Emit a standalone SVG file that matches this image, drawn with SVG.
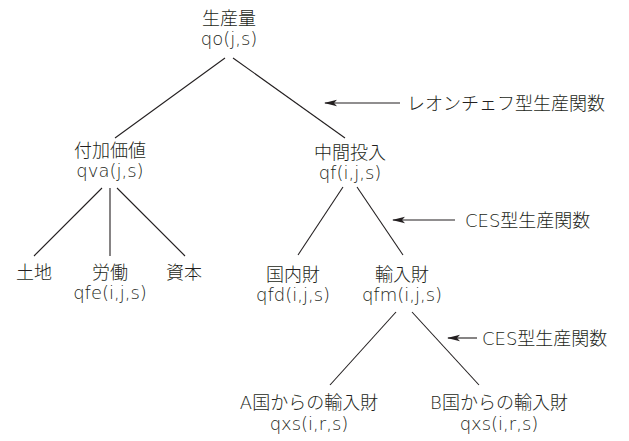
<svg xmlns="http://www.w3.org/2000/svg" width="629" height="441" viewBox="0 0 629 441">
<style>
text{font-family:"DejaVu Sans","Noto Sans CJK JP",sans-serif;font-size:18px;font-weight:300;fill:#231f20;text-anchor:middle}
.lab{text-anchor:start}
line{stroke:#231f20;stroke-width:1.1}
</style>
<defs>
<marker id="ah" markerWidth="13" markerHeight="8" refX="12" refY="4" orient="auto" markerUnits="userSpaceOnUse">
<path d="M0,0.8 L13,4 L0,7.2 L3,4 Z" fill="#231f20"/>
</marker>
</defs>
<g id="connectors">
<line x1="225" y1="58" x2="115" y2="138"/>
<line x1="233" y1="58" x2="345" y2="138"/>
<line x1="102" y1="188" x2="34" y2="256"/>
<line x1="110" y1="188" x2="110" y2="256"/>
<line x1="117" y1="188" x2="185" y2="256"/>
<line x1="343" y1="187" x2="298" y2="255"/>
<line x1="357" y1="187" x2="403" y2="255"/>
<line x1="396" y1="312" x2="330" y2="385"/>
<line x1="412" y1="312" x2="479" y2="385"/>
<line x1="400" y1="103" x2="325" y2="103" marker-end="url(#ah)"/>
<line x1="455" y1="220" x2="393" y2="220" marker-end="url(#ah)"/>
<line x1="477" y1="338" x2="448" y2="338" marker-end="url(#ah)"/>
</g>
<g id="n-output"><text x="229" y="25">生産量</text><text x="229" y="45">qo(j,s)</text></g>
<g id="n-va"><text x="110" y="157">付加価値</text><text x="110" y="177">qva(j,s)</text></g>
<g id="n-inter"><text x="350" y="159">中間投入</text><text x="350" y="179">qf(i,j,s)</text></g>
<g id="n-land"><text x="34" y="279">土地</text></g>
<g id="n-labor"><text x="110" y="279">労働</text><text x="110" y="299">qfe(i,j,s)</text></g>
<g id="n-capital"><text x="184" y="279">資本</text></g>
<g id="n-dom"><text x="293" y="281">国内財</text><text x="293" y="301">qfd(i,j,s)</text></g>
<g id="n-imp"><text x="402" y="281">輸入財</text><text x="402" y="301">qfm(i,j,s)</text></g>
<g id="n-a"><text x="309" y="409">A国からの輸入財</text><text x="309" y="430">qxs(i,r,s)</text></g>
<g id="n-b"><text x="499" y="409">B国からの輸入財</text><text x="499" y="430">qxs(i,r,s)</text></g>
<g id="labels">
<text class="lab" x="407" y="110">レオンチェフ型生産関数</text>
<text class="lab" x="465" y="227">CES型生産関数</text>
<text class="lab" x="482" y="345">CES型生産関数</text>
</g>
</svg>
